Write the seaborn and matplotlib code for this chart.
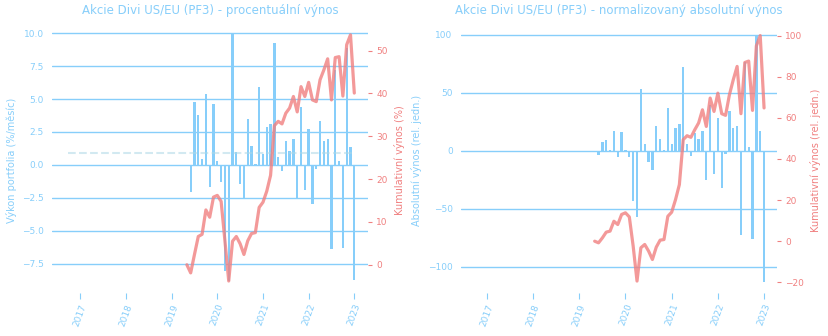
import numpy as np
import pandas as pd
import matplotlib
matplotlib.use("Agg")
import matplotlib.pyplot as plt
import seaborn as sns

# ---------------- data ----------------
bar_months = pd.date_range("2019-06-01", periods=44, freq="MS")
line_months = pd.date_range("2019-05-01", periods=45, freq="MS")

pct_returns = [-2.05, 4.74, 3.75, 0.48, 5.42, -1.65, 4.59, 0.33, -1.32, -8.09,
               -8.80, 9.91, 0.94, -1.44, -2.61, 3.52, 1.47, 0.10, 5.88, 0.79,
               2.84, 3.14, 9.23, 0.63, -0.48, 1.85, 1.09, 1.93, -2.61, 4.36,
               -1.93, 2.76, -2.99, -0.28, 3.30, 1.85, 1.93, -6.41, 7.17, 0.33,
               -6.34, 8.90, 1.39, -8.72]
cum_pct = [0.0, -1.9, 2.4, 6.6, 7.1, 12.8, 11.1, 15.8, 16.2, 14.8,
           5.6, -3.8, 5.5, 6.6, 4.9, 2.4, 5.6, 7.3, 7.5, 13.4,
           14.6, 17.2, 20.9, 32.5, 33.5, 32.9, 35.4, 36.6, 39.3, 35.7,
           41.6, 39.3, 42.6, 38.5, 38.1, 43.2, 45.5, 48.1, 38.5, 48.4,
           48.6, 39.4, 51.4, 53.7, 40.1]
abs_returns = [-3.7, 7.8, 8.9, 1.1, 16.7, -5.5, 15.8, 1.1, -5.5, -43.4,
               -57.2, 52.9, 5.5, -9.8, -16.7, 21.8, 9.8, 1.1, 36.5, 5.5,
               19.8, 22.7, 71.8, 5.5, -4.6, 15.5, 9.8, 17.5, -25.3, 39.9,
               -20.1, 28.4, -32.2, -2.9, 33.9, 19.3, 21.0, -72.7, 76.7, 3.7,
               -76.1, 100.0, 17.5, -113.2]
cum_abs = [0.0, -0.8, 1.6, 4.4, 4.9, 9.7, 8.1, 13.0, 13.8, 11.8,
           -2.4, -19.4, -3.2, -1.6, -4.8, -8.9, -2.9, 0.5, 0.8, 12.1,
           14.1, 20.2, 27.5, 49.4, 51.3, 50.5, 54.2, 57.5, 63.9, 55.8,
           69.6, 63.1, 72.0, 62.0, 61.2, 71.2, 78.5, 85.0, 62.0, 86.9,
           87.6, 63.6, 95.0, 100.0, 64.8]
year_ticks = [2017, 2018, 2019, 2020, 2021, 2022, 2023]

titles = ["Akcie Divi US/EU (PF3) - procentuální výnos",
          "Akcie Divi US/EU (PF3) - normalizovaný absolutní výnos"]
ylabels = ["Výkon portfolia (%/měsíc)", "Absolutní výnos (rel. jedn.)"]
ylabels2 = ["Kumulativní výnos (%)", "Kumulativní výnos (rel. jedn.)"]
# ---------------------------------------

BLUE = "#87CEFA"
RED = "#F08080"
DASH = "#ADD8E6"

sns.set_style("white")
plt.rcParams["font.family"] = ["DejaVu Sans"]


def dec_year(dates):
    return np.array([d.year + (d.month - 1) / 12 for d in dates])


bar_x = dec_year(bar_months)
line_x = dec_year(line_months)

fig = plt.figure(figsize=(8.29, 3.36), dpi=100)
W, H = 829, 336
ax_l = fig.add_axes([52 / W, 43 / H, 316 / W, 271 / H])
ax_r = fig.add_axes([461 / W, 43 / H, 316 / W, 271 / H])


def draw(ax, bars, line, ylim, ylim2, yticks, yticks2, fmt, title, yl, yl2,
         xlim, show_mean, lab_x, lab_x2):
    ax2 = ax.twinx()
    ax.set_zorder(1)
    ax2.set_zorder(2)
    ax.patch.set_visible(False)
    sns.barplot(x=bar_x, y=bars, native_scale=True, width=0.6, color=BLUE,
                saturation=1, ax=ax, zorder=2, linewidth=0, edgecolor="none")
    if show_mean:
        ax.axhline(np.mean(bars), xmin=0.05, xmax=0.95, color=DASH, ls="--",
                   lw=1.5, alpha=0.55, zorder=3)
    sns.lineplot(x=line_x, y=line, color=RED, alpha=0.8, linewidth=2.3,
                 ax=ax2)
    ax.set_xlim(*xlim)
    ax.set_ylim(*ylim)
    ax2.set_ylim(*ylim2)
    ax.set_yticks(yticks)
    ax.set_yticklabels([fmt.format(v).replace("-", "\u2212") for v in yticks])
    ax2.set_yticks(yticks2)
    ax2.set_yticklabels([str(v).replace("-", "\u2212") for v in yticks2])
    ax.set_xticks(year_ticks)
    ax.set_xticklabels([str(y) for y in year_ticks], rotation=70, ha="center")
    ax.yaxis.grid(True, color=BLUE, linewidth=1.0, zorder=0)
    ax.xaxis.grid(False)
    ax2.grid(False)
    for a in (ax, ax2):
        for s in a.spines.values():
            s.set_visible(False)
    ax.tick_params(axis="y", left=False, length=0, pad=6, labelsize=6.5,
                   labelcolor=BLUE)
    ax.tick_params(axis="x", bottom=True, length=4, width=0.8, color=BLUE,
                   pad=3, labelsize=6.5, labelcolor=BLUE)
    ax2.tick_params(axis="y", right=True, length=3, width=0.8, color=RED,
                    pad=3, labelsize=6.5, labelcolor=RED)
    ax.set_xlabel("")
    ax.set_ylabel(yl, color=BLUE, fontsize=7)
    ax2.set_ylabel(yl2, color=RED, fontsize=7)
    ax.yaxis.set_label_coords(lab_x, 0.49)
    ax2.yaxis.set_label_coords(lab_x2, 0.49)
    ax.set_title(title, color=BLUE, fontsize=8.5, pad=6)


draw(ax_l, pct_returns, cum_pct, (-9.73, 10.85), (-6.6, 56.7),
     [-7.5, -5.0, -2.5, 0.0, 2.5, 5.0, 7.5, 10.0], [0, 10, 20, 30, 40, 50],
     "{:.1f}", titles[0], ylabels[0], ylabels2[0], (2016.38, 2023.30), True,
     -0.112, 1.081)
draw(ax_r, abs_returns, cum_abs, (-122.5, 111.0), (-25.2, 106.6),
     [-100, -50, 0, 50, 100], [-20, 0, 20, 40, 60, 80, 100],
     "{:d}", titles[1], ylabels[1], ylabels2[1], (2016.44, 2023.28), False,
     -0.122, 1.106)

fig.savefig("out.png", dpi=100)
